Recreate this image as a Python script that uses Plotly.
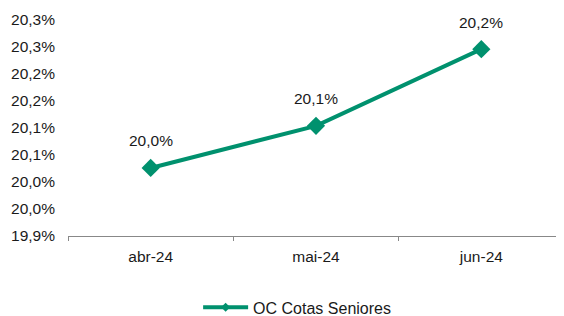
import plotly.graph_objects as go

categories = ["abr-24", "mai-24", "jun-24"]
values = [20.026, 20.104, 20.246]
value_labels = ["20,0%", "20,1%", "20,2%"]
tick_vals = [19.90, 19.95, 20.00, 20.05, 20.10, 20.15, 20.20, 20.25, 20.30]
tick_text = ["19,9%", "20,0%", "20,0%", "20,1%", "20,1%", "20,2%", "20,2%", "20,3%", "20,3%"]
series_name = "OC Cotas Seniores"

color = "#00916E"
font = dict(family="Liberation Sans, Arial, sans-serif", size=15.5, color="#1a1a1a")

fig = go.Figure()
fig.add_trace(go.Scatter(
    x=categories, y=values, name=series_name,
    mode="lines+markers",
    line=dict(color=color, width=4),
    marker=dict(symbol="diamond", size=14, color=color),
    showlegend=False,
))
# legend entry (line with small diamond)
fig.add_trace(go.Scatter(
    x=[None], y=[None], name=series_name,
    mode="lines+markers",
    line=dict(color=color, width=4),
    marker=dict(symbol="diamond", size=7, color=color),
    showlegend=True,
))

for c, v, t in zip(categories, values, value_labels):
    fig.add_annotation(x=c, y=v, text=t, showarrow=False, yshift=27, font=font)

fig.update_layout(
    width=556, height=308,
    margin=dict(l=60, r=0, t=12, b=80),
    paper_bgcolor="white", plot_bgcolor="white",
    font=font,
    showlegend=True,
    legend=dict(orientation="h", x=0.52, xanchor="center", xref="container",
                y=0.028, yanchor="middle", yref="container",
                font=dict(family=font["family"], size=16, color=font["color"]),
                itemwidth=45),
    xaxis=dict(type="category", range=[-0.5, 2.5], showgrid=False,
               showline=True, linecolor="#888888", linewidth=1,
               ticks="outside", tickson="boundaries", ticklen=4, tickcolor="#888888",
               tickfont=font, ticklabelstandoff=6),
    yaxis=dict(range=[19.9, 20.3], tickvals=tick_vals, ticktext=tick_text,
               showgrid=False, showline=False, zeroline=False,
               ticks="", tickfont=font, ticklabelstandoff=12),
)

fig.write_html("out.html")
